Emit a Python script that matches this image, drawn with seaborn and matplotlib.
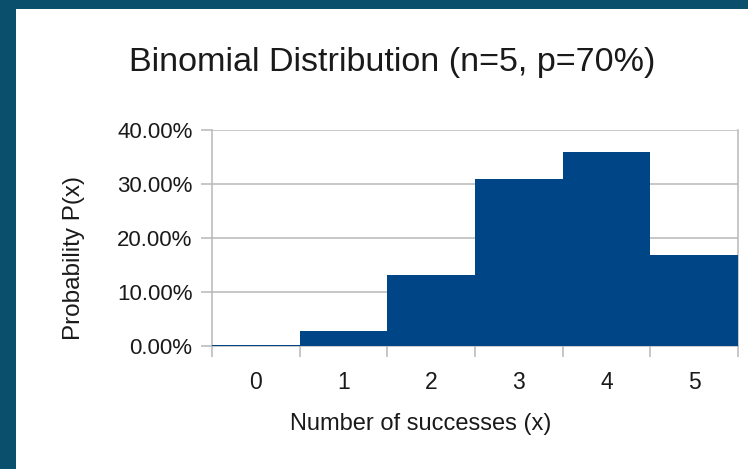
import matplotlib
matplotlib.use("Agg")
import matplotlib.pyplot as plt
import seaborn as sns
from matplotlib.patches import Rectangle
from matplotlib.ticker import PercentFormatter, FixedLocator

successes = ["0", "1", "2", "3", "4", "5"]
prob = [0.00243, 0.02835, 0.1323, 0.3087, 0.36015, 0.16807]

sns.set_theme(style = "white")
plt.rcParams['font.family'] = ['Liberation Sans', 'DejaVu Sans']

bg = '#0a4f6b'
bar_col = '#004586'
grid_col = '#b8b8b8'
txt_col = '#1a1a1a'

fig = plt.figure(figsize = (7.48, 4.69), dpi = 100, facecolor = bg)
# white panel of the slide
fig.patches.append(Rectangle((16 / 748, 0), 1, 1 - 9 / 469, transform = fig.transFigure,
                             facecolor = 'white', edgecolor = 'none', zorder = -1))

ax = fig.add_axes([212 / 748, 1 - 346 / 469, 526 / 748, 216 / 469])
ax.set_zorder(1)
ax.set_facecolor('white')

sns.barplot(x = successes, y = prob, width = 1, color = bar_col, saturation = 1,
            edgecolor = 'none', ax = ax, zorder = 3)

ax.set_xlim(-0.5, 5.5)
ax.set_ylim(0, 0.4)
ax.set_yticks([0, 0.1, 0.2, 0.3, 0.4])
ax.yaxis.set_major_formatter(PercentFormatter(1, decimals = 2))
ax.yaxis.grid(True, color = grid_col, linewidth = 1.1, zorder = 0)
ax.set_axisbelow(True)

# category boundaries get the tick marks, labels sit in the middle
ax.xaxis.set_major_locator(FixedLocator([i - 0.5 for i in range(7)]))
ax.xaxis.set_minor_locator(FixedLocator(range(6)))
ax.set_xticklabels([''] * 7)
ax.set_xticklabels(successes, minor = True)
ax.tick_params(axis = 'x', which = 'major', length = 8, width = 1.1, color = grid_col, bottom = True)
ax.tick_params(axis = 'x', which = 'minor', length = 0, pad = 18, labelsize = 16.5, labelcolor = txt_col)
ax.tick_params(axis = 'y', length = 8, width = 1.1, color = grid_col, left = True, pad = 6,
               labelsize = 16, labelcolor = txt_col)

for side in ['left', 'right', 'bottom']:
    ax.spines[side].set_color(grid_col)
    ax.spines[side].set_linewidth(1.1)
ax.spines['top'].set_visible(False)

ax.set_xlabel('Number of successes (x)', fontsize = 17, color = txt_col)
ax.set_ylabel('Probability P(x)', fontsize = 17.5, color = txt_col)
ax.xaxis.set_label_coords(0.397, -0.31)
ax.yaxis.set_label_coords(-0.241, 0.407)

fig.text(392 / 748, 1 - 62 / 469, 'Binomial Distribution (n=5, p=70%)', fontsize = 24.6,
         color = txt_col, ha = 'center', va = 'center')

fig.savefig('out.png', dpi = 100, facecolor = bg)
